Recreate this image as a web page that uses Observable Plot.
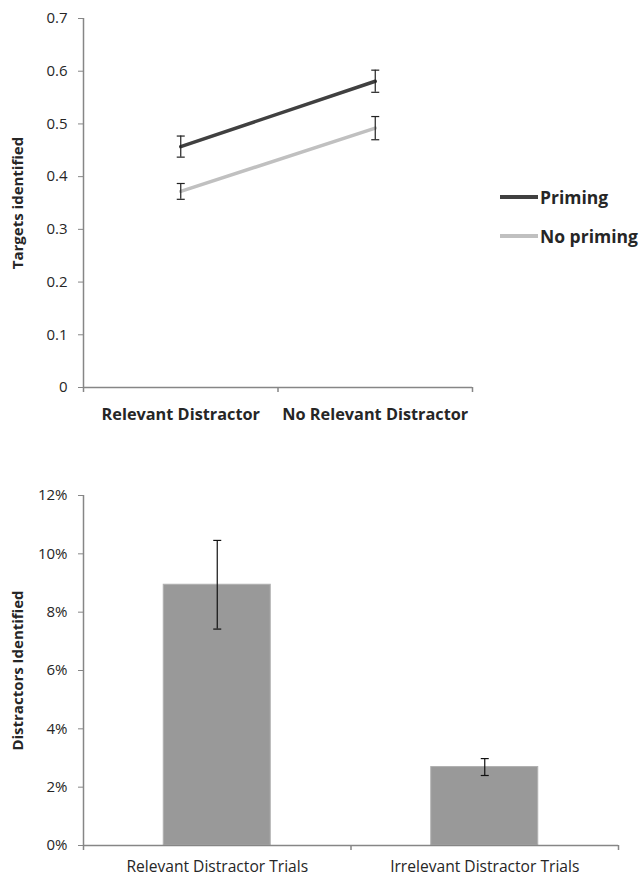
<!DOCTYPE html>
<html><head><meta charset="utf-8">
<script src="https://cdn.jsdelivr.net/npm/d3@7"></script>
<script src="https://cdn.jsdelivr.net/npm/@observablehq/plot@0.6"></script>
<style>
body{margin:0;background:#fff;font-family:"Open Sans",sans-serif;}
#wrap{position:relative;width:643px;height:877px;}
#top,#bottom{position:absolute;left:0;}
#top{top:0}
#bottom{top:430px}
.legend{position:absolute;left:500px;height:22px;font:bold 17.5px "Open Sans",sans-serif;color:#262626;display:flex;align-items:center;white-space:nowrap}
.legend .sw{display:inline-block;width:38px;height:3.5px;margin-right:2px}
</style></head><body><div id="wrap"><div id="top"></div><div id="bottom"></div></div>
<script>
// ---- Top chart data ----
const conditions = ["Relevant Distractor", "No Relevant Distractor"];
const series = ["Priming", "No priming"];
const primingValues = [0.457, 0.581];
const primingErrors = [0.020, 0.021];
const noPrimingValues = [0.372, 0.492];
const noPrimingErrors = [0.015, 0.022];
const seriesColors = ["#404040", "#c0c0c0"];
const topYTicks = [0, 0.1, 0.2, 0.3, 0.4, 0.5, 0.6, 0.7];
const topYTickLabels = ["0", "0.1", "0.2", "0.3", "0.4", "0.5", "0.6", "0.7"];
const topYTitle = "Targets identified";

// ---- Bottom chart data ----
const trialTypes = ["Relevant Distractor Trials", "Irrelevant Distractor Trials"];
const distractorValues = [0.0894, 0.0269];
const distractorErrors = [0.0152, 0.0029];
const bottomYTicks = [0, 0.02, 0.04, 0.06, 0.08, 0.10, 0.12];
const bottomYTickLabels = ["0%", "2%", "4%", "6%", "8%", "10%", "12%"];
const bottomYTitle = "Distractors Identified";

const axisGray = "#868686";
const textColor = "#262626";
const font = "'Open Sans', sans-serif";

const capSymbol = {draw(context, size) { const r = Math.sqrt(size / Math.PI); context.moveTo(-r, 0); context.lineTo(r, 0); }};

const seriesValues = [primingValues, noPrimingValues];
const seriesErrors = [primingErrors, noPrimingErrors];
const lineData = series.flatMap((s, si) => conditions.map((c, ci) => ({
  series: s, cond: c, pos: ci + 0.5,
  value: seriesValues[si][ci],
  lo: seriesValues[si][ci] - seriesErrors[si][ci],
  hi: seriesValues[si][ci] + seriesErrors[si][ci]
})));

const topPlot = Plot.plot({
  width: 643, height: 430,
  marginLeft: 83, marginRight: 171, marginTop: 18, marginBottom: 43,
  x: {type: "linear", domain: [0, conditions.length], axis: null},
  y: {domain: [0, 0.7], axis: null},
  color: {domain: series, range: seriesColors},
  style: {fontFamily: font, fontSize: "15px", color: textColor, background: "white"},
  marks: [
    Plot.axisY({ticks: topYTicks, tickFormat: d => topYTickLabels[topYTicks.indexOf(d)], tickSize: 5, tickPadding: 11, stroke: axisGray, label: null, fontSize: 15}),
    Plot.axisX({ticks: d3.range(conditions.length + 1), tickFormat: () => "", tickSize: 5, stroke: axisGray, strokeWidth: 1.5, label: null}),
    Plot.ruleX([0], {stroke: axisGray, strokeWidth: 1.5}),
    Plot.ruleY([0], {stroke: axisGray, strokeWidth: 1.5}),
    Plot.text(conditions, {x: (d, i) => i + 0.5, frameAnchor: "bottom", dy: 27, lineAnchor: "middle", fontWeight: "bold", fontSize: 16.3}),
    Plot.text([topYTitle], {frameAnchor: "left", textAnchor: "middle", lineAnchor: "middle", rotate: -90, dx: -65, fontWeight: "bold", fontSize: 15}),
    Plot.line(lineData, {x: "pos", y: "value", z: "series", stroke: "series", strokeWidth: 3.5}),
    Plot.ruleX(lineData, {x: "pos", y1: "lo", y2: "hi", stroke: "#222", strokeWidth: 1.2}),
    Plot.dot(lineData, {x: "pos", y: "hi", symbol: capSymbol, r: 4, stroke: "#222", strokeWidth: 1.2, fill: "none"}),
    Plot.dot(lineData, {x: "pos", y: "lo", symbol: capSymbol, r: 4, stroke: "#222", strokeWidth: 1.2, fill: "none"})
  ]
});
document.getElementById("top").appendChild(topPlot);

// legend
const legendTops = [186, 225];
series.forEach((s, i) => {
  const div = document.createElement("div");
  div.className = "legend";
  div.style.top = legendTops[i] + "px";
  const sw = document.createElement("span");
  sw.className = "sw";
  sw.style.background = seriesColors[i];
  div.appendChild(sw);
  div.appendChild(document.createTextNode(s));
  document.getElementById("wrap").appendChild(div);
});

const barData = trialTypes.map((t, i) => ({
  type: t, pos: i + 0.5, value: distractorValues[i],
  lo: distractorValues[i] - distractorErrors[i], hi: distractorValues[i] + distractorErrors[i]
}));
const barHalf = 0.2;

const bottomPlot = Plot.plot({
  width: 643, height: 447,
  marginLeft: 83, marginRight: 25, marginTop: 65, marginBottom: 32,
  x: {type: "linear", domain: [0, trialTypes.length], axis: null},
  y: {domain: [0, 0.12], axis: null},
  style: {fontFamily: font, fontSize: "15px", color: textColor, background: "white"},
  marks: [
    Plot.rectY(barData, {x1: d => d.pos - barHalf, x2: d => d.pos + barHalf, y: "value", fill: "#999999", stroke: "#b0b0b0", strokeWidth: 1}),
    Plot.axisY({ticks: bottomYTicks, tickFormat: d => bottomYTickLabels[bottomYTicks.indexOf(d)], tickSize: 5, tickPadding: 11, stroke: axisGray, label: null, fontSize: 15}),
    Plot.axisX({ticks: d3.range(trialTypes.length + 1), tickFormat: () => "", tickSize: 5, stroke: axisGray, strokeWidth: 1.5, label: null}),
    Plot.ruleX([0], {stroke: axisGray, strokeWidth: 1.5}),
    Plot.ruleY([0], {stroke: axisGray, strokeWidth: 1.5}),
    Plot.text(trialTypes, {x: (d, i) => i + 0.5, frameAnchor: "bottom", dy: 21, lineAnchor: "middle", fontSize: 15.6}),
    Plot.text([bottomYTitle], {frameAnchor: "left", textAnchor: "middle", lineAnchor: "middle", rotate: -90, dx: -65, fontWeight: "bold", fontSize: 15}),
    Plot.ruleX(barData, {x: "pos", y1: "lo", y2: "hi", stroke: "#111", strokeWidth: 1.2}),
    Plot.dot(barData, {x: "pos", y: "hi", symbol: capSymbol, r: 4, stroke: "#111", strokeWidth: 1.2, fill: "none"}),
    Plot.dot(barData, {x: "pos", y: "lo", symbol: capSymbol, r: 4, stroke: "#111", strokeWidth: 1.2, fill: "none"})
  ]
});
document.getElementById("bottom").appendChild(bottomPlot);
</script>
</body></html>
